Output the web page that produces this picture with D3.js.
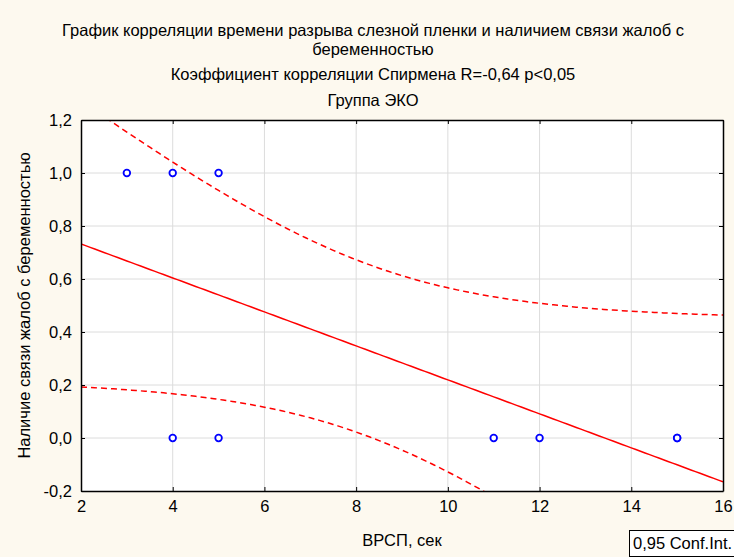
<!DOCTYPE html>
<html>
<head>
<meta charset="utf-8">
<script src="https://cdn.jsdelivr.net/npm/d3@7"></script>
<style>
  body { margin: 0; background: #fdf9ef; }
  svg { display: block; font-family: 'Liberation Sans', Arial, sans-serif; }
</style>
</head>
<body>
<div id="plot"></div>
<script>
// Data (x = ВРСП, y = связь жалоб)
let timeSec = [3, 4, 5, 4, 5, 11, 12, 15, 15]
let complaint = [1, 1, 1, 0, 0, 0, 0, 0, 0]
let xTicks = [2, 4, 6, 8, 10, 12, 14, 16]
let yTicks = [-0.2, 0, 0.2, 0.4, 0.6, 0.8, 1.0, 1.2]
let titleLines = [
  'График корреляции времени разрыва слезной пленки и наличием связи жалоб с',
  'беременностью',
  'Коэффициент корреляции Спирмена R=-0,64 p<0,05',
  'Группа ЭКО'
]
let tCrit = 2.365 // t(0.975, df=7)

let W = 734, H = 557
let margin = {t: 120, r: 10, b: 66, l: 81}
let width = 723 - margin.l
let height = 491 - margin.t
let fs = '16.5px'

let svg = d3.select('#plot')
  .append('svg')
  .attr('width', W)
  .attr('height', H)

svg.append('rect')
  .attr('width', W).attr('height', H)
  .style('fill', '#fdf9ef')

let x = d3.scaleLinear().domain([2, 16]).range([0, width])
let y = d3.scaleLinear().domain([-0.2, 1.2]).range([height, 0])

let g = svg.append('g').attr('transform', `translate(${margin.l},${margin.t})`)

g.append('rect')
  .attr('width', width).attr('height', height)
  .style('fill', '#ffffff')

// grid
g.append('g').selectAll('line')
  .data(xTicks.slice(1, -1)).enter().append('line')
  .attr('x1', d => x(d)).attr('x2', d => x(d))
  .attr('y1', 0).attr('y2', height)
  .style('stroke', '#dcdcdc')
g.append('g').selectAll('line')
  .data(yTicks.slice(1, -1)).enter().append('line')
  .attr('y1', d => y(d)).attr('y2', d => y(d))
  .attr('x1', 0).attr('x2', width)
  .style('stroke', '#dcdcdc')

// regression + confidence band
let n = timeSec.length
let mx = d3.mean(timeSec), my = d3.mean(complaint)
let sxx = d3.sum(timeSec, d => (d - mx) * (d - mx))
let sxy = d3.sum(timeSec, (d, i) => (d - mx) * (complaint[i] - my))
let slope = sxy / sxx
let icpt = my - slope * mx
let sres = Math.sqrt(d3.sum(timeSec, (d, i) => Math.pow(complaint[i] - (icpt + slope * d), 2)) / (n - 2))

let xs = d3.range(2, 16.001, 0.1)
let fit = xs.map(v => {
  let yh = icpt + slope * v
  let h = tCrit * sres * Math.sqrt(1 / n + (v - mx) * (v - mx) / sxx)
  return {x: v, y: yh, lo: yh - h, hi: yh + h}
})

let clip = g.append('clipPath').attr('id', 'clip')
clip.append('rect').attr('width', width).attr('height', height)

let lines = g.append('g').attr('clip-path', 'url(#clip)')
lines.append('path')
  .datum(fit)
  .attr('d', d3.line().x(d => x(d.x)).y(d => y(d.y)))
  .style('fill', 'none').style('stroke', '#ff0000').style('stroke-width', 1.5)
;['lo', 'hi'].forEach(k => {
  lines.append('path')
    .datum(fit)
    .attr('d', d3.line().x(d => x(d.x)).y(d => y(d[k])))
    .style('fill', 'none').style('stroke', '#ff0000')
    .style('stroke-width', 1.5).style('stroke-dasharray', '6,4')
})

// points
g.append('g').selectAll('circle')
  .data(timeSec).enter().append('circle')
  .attr('cx', d => x(d))
  .attr('cy', (d, i) => y(complaint[i]))
  .attr('r', 3.3)
  .style('fill', '#ffffff').style('stroke', '#0000ff').style('stroke-width', 1.8)

// frame and inner ticks
let fmt = d => d3.format('.1f')(d).replace('.', ',').replace('−', '-')
let textStyle = a => a.selectAll('text').style('font-size', fs).style('fill', '#000').style('font-family', 'Liberation Sans, Arial')
g.append('g').call(d3.axisLeft(y).tickValues(yTicks).tickSizeInner(-4).tickSizeOuter(0).tickPadding(9).tickFormat(fmt))
  .call(textStyle)
g.append('g').attr('transform', `translate(${width},0)`)
  .call(d3.axisRight(y).tickValues(yTicks).tickSizeInner(-4).tickSizeOuter(0).tickFormat(''))
g.append('g').attr('transform', `translate(0,${height})`)
  .call(d3.axisBottom(x).tickValues(xTicks).tickSizeInner(-4).tickSizeOuter(0).tickPadding(9))
  .call(textStyle)
g.append('g')
  .call(d3.axisTop(x).tickValues(xTicks).tickSizeInner(-4).tickSizeOuter(0).tickFormat(''))
g.selectAll('.domain').style('stroke', '#000').style('stroke-width', 1.5)
g.selectAll('.tick line').style('stroke', '#000')

// titles
svg.append('g').selectAll('text')
  .data(titleLines).enter().append('text')
  .attr('x', 373)
  .attr('y', (d, i) => [36, 55, 80, 106][i])
  .attr('text-anchor', 'middle')
  .style('font-size', fs)
  .text(d => d)

svg.append('text')
  .attr('x', margin.l + width / 2).attr('y', 546)
  .attr('text-anchor', 'middle')
  .style('font-size', fs)
  .text('ВРСП, сек')

svg.append('text')
  .attr('transform', `translate(30,${margin.t + height / 2}) rotate(-90)`)
  .attr('text-anchor', 'middle')
  .style('font-size', fs)
  .text('Наличие связи жалоб с беременностью')

// legend box
svg.append('rect')
  .attr('x', 629.5).attr('y', 530.5).attr('width', 110).attr('height', 26)
  .style('fill', '#ffffff').style('stroke', '#000')
svg.append('text')
  .attr('x', 633).attr('y', 549)
  .style('font-size', fs)
  .text('0,95 Conf.Int.')
</script>
</body>
</html>
